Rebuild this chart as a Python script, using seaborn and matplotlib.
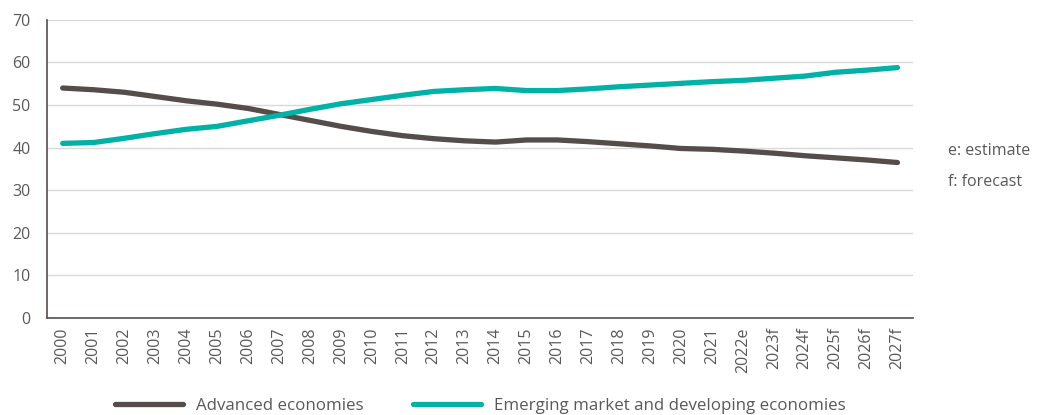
import pandas as pd
import matplotlib.pyplot as plt
import seaborn as sns

# Share of world GDP (%)
years = ["2000", "2001", "2002", "2003", "2004", "2005", "2006", "2007", "2008", "2009",
         "2010", "2011", "2012", "2013", "2014", "2015", "2016", "2017", "2018", "2019",
         "2020", "2021", "2022e", "2023f", "2024f", "2025f", "2026f", "2027f"]
advanced = [54.0, 53.6, 53.0, 52.0, 51.0, 50.2, 49.2, 47.8, 46.4, 45.0,
            43.8, 42.8, 42.1, 41.6, 41.3, 41.8, 41.8, 41.4, 40.9, 40.4,
            39.8, 39.6, 39.2, 38.7, 38.1, 37.6, 37.1, 36.5]
emerging = [41.0, 41.2, 42.2, 43.3, 44.3, 45.0, 46.3, 47.6, 49.0, 50.3,
            51.3, 52.3, 53.2, 53.6, 53.9, 53.4, 53.4, 53.8, 54.3, 54.7,
            55.1, 55.5, 55.8, 56.3, 56.8, 57.7, 58.2, 58.8]
series_names = ["Advanced economies", "Emerging market and developing economies"]
colors = ["#554d4a", "#00b2a6"]

df = pd.DataFrame({
    "pos": list(range(len(years))) * 2,
    "value": advanced + emerging,
    "group": [series_names[0]] * len(years) + [series_names[1]] * len(years),
})

sns.set_style("white")
plt.rcParams["font.family"] = ["Open Sans", "DejaVu Sans"]
text_color = "#595959"

fig = plt.figure(figsize=(10.38, 4.15), dpi=100)
ax = fig.add_axes([0.0455, 0.234, 0.834, 0.718])

sns.lineplot(data=df, x="pos", y="value", hue="group", palette=colors,
             linewidth=3.8, solid_capstyle="round", ax=ax, legend=False)

ax.set_xlim(-0.5, len(years) - 0.5)
ax.set_ylim(0, 70)
ax.set_yticks(range(0, 71, 10))
ax.set_xticks(range(len(years)))
ax.set_xticklabels(years, rotation=90)
ax.tick_params(axis="both", length=0, labelsize=11.5, labelcolor=text_color)
ax.tick_params(axis="x", pad=7)
ax.tick_params(axis="y", pad=12)
ax.set_xlabel("")
ax.set_ylabel("")
ax.grid(axis="y", color="#d9d9d9", linewidth=1)
ax.set_axisbelow(True)
for s in ["top", "right"]:
    ax.spines[s].set_visible(False)
ax.spines["left"].set_color("#554d4a")
ax.spines["bottom"].set_color("#554d4a")
ax.spines["left"].set_linewidth(1.2)
ax.spines["bottom"].set_linewidth(1.2)

fig.text(0.913, 0.636, "e: estimate", fontsize=11.5, color=text_color, va="center")
fig.text(0.913, 0.562, "f: forecast", fontsize=11.5, color=text_color, va="center")

handles = [plt.Line2D([], [], color=c, linewidth=3.8, solid_capstyle="round") for c in colors]
fig.legend(handles, series_names, loc="lower center", bbox_to_anchor=(0.463, -0.035),
           ncol=2, frameon=False, handlelength=4.0, handletextpad=0.8, columnspacing=2.9,
           fontsize=12.2, labelcolor=text_color)

fig.savefig("out.png", dpi=100)
